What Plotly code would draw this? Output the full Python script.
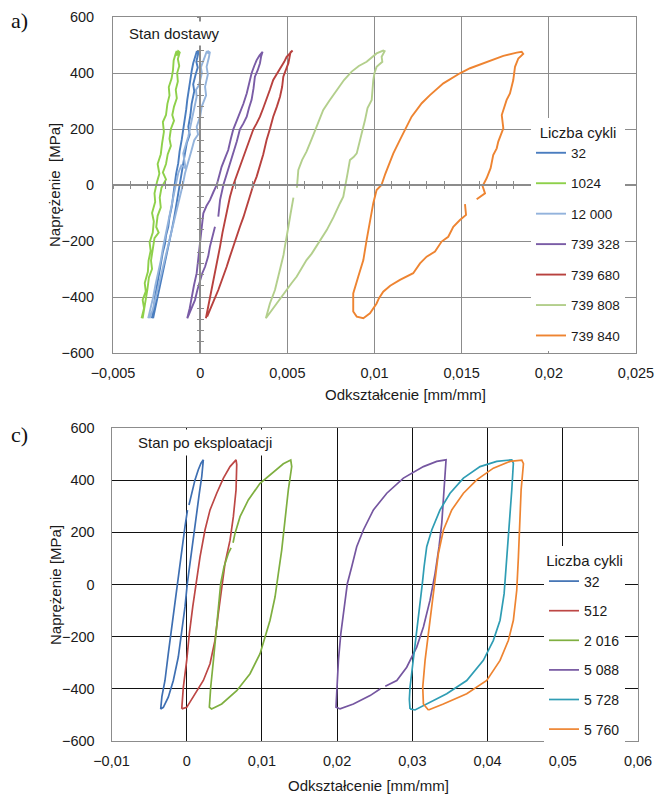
import plotly.graph_objects as go

# ---------------- a) Stan dostawy ----------------
a_names = ["32", "1024", "12 000", "739 328", "739 680", "739 808", "739 840"]
a_colors = ["#4A7DBF", "#8ED04A", "#93B3DC", "#7A5CA6", "#B8413E", "#B3CF8C", "#EE8431"]

a32_x = [-0.00277, -0.00266, -0.00259, -0.00248, -0.00236, -0.00228, -0.00214, -0.00202, -0.00196, -0.00183,
         -0.00176, -0.00163, -0.00156, -0.00145, -0.00138, -0.00126, -0.00118, -0.00106, -0.00096, -0.00087,
         -0.00080, -0.00074, -0.00066, -0.00059, -0.00048, -0.00040, -0.00030, -0.00020, -0.00008, -0.00016,
         -0.00004, -0.00011, -0.00022, -0.00014, -0.00026, -0.00040, -0.00034, -0.00049, -0.00056, -0.00068,
         -0.00060, -0.00077, -0.00088, -0.00097, -0.00108, -0.00116, -0.00126, -0.00135, -0.00150, -0.00163,
         -0.00176, -0.00192, -0.00204, -0.00221, -0.00234, -0.00249, -0.00262, -0.00270]
a32_y = [-476, -440, -399, -360, -320, -280, -240, -210, -180, -149,
         -115, -77, -40, 0, 40, 77, 120, 161, 200, 232,
         270, 304, 340, 375, 410, 435, 455, 476, 478, 468,
         472, 470, 440, 420, 395, 360, 335, 290, 250, 208,
         180, 149, 110, 77, 35, 0, -40, -77, -120, -161,
         -200, -244, -285, -327, -370, -411, -450, -476]

a1024_x = [-0.00336, -0.00322, -0.00330, -0.00312, -0.00318, -0.00300, -0.00296, -0.00284, -0.00290, -0.00272,
           -0.00266, -0.00276, -0.00258, -0.00262, -0.00248, -0.00234, -0.00244, -0.00226, -0.00218, -0.00208,
           -0.00214, -0.00196, -0.00188, -0.00176, -0.00180, -0.00164, -0.00156, -0.00152, -0.00140, -0.00135,
           -0.00128, -0.00136, -0.00126, -0.00118, -0.00116, -0.00128, -0.00120, -0.00132, -0.00128, -0.00140,
           -0.00134, -0.00150, -0.00160, -0.00150, -0.00168, -0.00176, -0.00168, -0.00186, -0.00196, -0.00214,
           -0.00196, -0.00222, -0.00232, -0.00226, -0.00244, -0.00252, -0.00238, -0.00262, -0.00270, -0.00282,
           -0.00276, -0.00294, -0.00302, -0.00312, -0.00320, -0.00330]
a1024_y = [-476, -440, -410, -380, -350, -310, -270, -235, -205, -170,
           -130, -100, -60, -30, 10, 40, 75, 110, 150, 190,
           225, 250, 290, 320, 350, 380, 410, 445, 470, 478,
           470, 462, 478, 474, 476, 450, 425, 400, 370, 340,
           310, 280, 250, 230, 200, 165, 140, 110, 75, 45,
           20, -10, -45, -80, -110, -150, -170, -190, -230, -270,
           -300, -330, -370, -410, -445, -476]

a12000_x = [-0.00298, -0.00284, -0.00269, -0.00256, -0.00240, -0.00226, -0.00212, -0.00198, -0.00183, -0.00168,
            -0.00154, -0.00140, -0.00126, -0.00108, -0.00084, -0.00097, -0.00082, -0.00068, -0.00054, -0.00040,
            -0.00030, -0.00020, -0.00024, -0.00008, 0.00000, 0.00010, 0.00004, 0.00018, 0.00028, 0.00037,
            0.00050, 0.00042, 0.00056, 0.00050, 0.00037, 0.00044, 0.00028, 0.00034, 0.00009, 0.00000,
            -0.00020, -0.00012, -0.00034, -0.00049, -0.00066, -0.00087, -0.00100, -0.00116, -0.00136, -0.00154,
            -0.00168, -0.00183, -0.00200, -0.00221, -0.00238, -0.00259, -0.00272, -0.00290]
a12000_y = [-476, -440, -399, -355, -315, -270, -220, -175, -125, -85,
            -42, 0, 42, 70, 60, 113, 145, 173, 215, 256,
            285, 315, 340, 355, 375, 400, 420, 440, 460, 476,
            478, 470, 476, 455, 422, 395, 351, 320, 280, 245,
            208, 180, 160, 125, 85, 42, 0, -42, -90, -137,
            -180, -220, -265, -315, -360, -411, -445, -476]

a739328_x = [0.00085, 0.00070, 0.00056, 0.00046, 0.00028, 0.00012, 0.00000, -0.00016, -0.00030, -0.00050,
             -0.00074, -0.00060, -0.00049, -0.00036, -0.00020, -0.00010, 0.00000, 0.00008, 0.00018, 0.00036,
             0.00056, 0.00076, 0.00095, 0.00110, 0.00123, 0.00142, 0.00161, 0.00176, 0.00190, 0.00210,
             0.00228, 0.00248, 0.00267, 0.00280, 0.00295, 0.00310, 0.00324, 0.00340, 0.00358, 0.00350,
             0.00343, 0.00330, 0.00314, 0.00306, 0.00295, 0.00280, 0.00267, 0.00248, 0.00228, 0.00210,
             0.00190, 0.00170, 0.00152, 0.00133, 0.00114, 0.00104]
a739328_y = [-149, -185, -220, -255, -292, -315, -339, -375, -411, -440,
             -476, -440, -399, -360, -315, -260, -196, -150, -101, -75,
             -54, -25, 0, 35, 65, 95, 125, 165, 199, 230,
             256, 290, 327, 365, 399, 425, 446, 462, 476, 460,
             435, 410, 387, 345, 304, 275, 244, 220, 199, 155,
             113, 78, 42, 0, -54, -113]

a739680_x = [0.00033, 0.00045, 0.00056, 0.00070, 0.00085, 0.00100, 0.00114, 0.00128, 0.00142, 0.00156,
             0.00171, 0.00190, 0.00210, 0.00228, 0.00248, 0.00267, 0.00286, 0.00305, 0.00324, 0.00343,
             0.00362, 0.00381, 0.00400, 0.00419, 0.00445, 0.00467, 0.00482, 0.00496, 0.00510, 0.00525,
             0.00530, 0.00518, 0.00506, 0.00490, 0.00477, 0.00470, 0.00458, 0.00440, 0.00419, 0.00400,
             0.00381, 0.00362, 0.00343, 0.00324, 0.00305, 0.00286, 0.00267, 0.00248, 0.00228, 0.00210,
             0.00190, 0.00171, 0.00152, 0.00128, 0.00104, 0.00080, 0.00056, 0.00040]
a739680_y = [-476, -440, -399, -355, -315, -265, -220, -170, -125, -80,
             -42, 0, 35, 65, 100, 137, 170, 199, 220, 244,
             275, 304, 340, 375, 400, 422, 440, 458, 468, 476,
             480, 474, 435, 410, 387, 350, 315, 280, 244, 200,
             161, 110, 65, 30, 0, -40, -77, -115, -149, -185,
             -220, -255, -292, -335, -375, -410, -446, -470]

a739808_x = [0.00555, 0.00563, 0.00585, 0.00610, 0.00640, 0.00668, 0.00688, 0.00706, 0.00740, 0.00783,
             0.00825, 0.00869, 0.00910, 0.00955, 0.00985, 0.01012, 0.01050, 0.01058, 0.01041, 0.01045,
             0.01012, 0.01000, 0.00993, 0.00990, 0.00984, 0.00960, 0.00955, 0.00945, 0.00936, 0.00915,
             0.00898, 0.00880, 0.00859, 0.00845, 0.00835, 0.00821, 0.00802, 0.00765, 0.00726, 0.00698,
             0.00668, 0.00640, 0.00610, 0.00580, 0.00554, 0.00525, 0.00496, 0.00470, 0.00439, 0.00410,
             0.00377, 0.00400, 0.00429, 0.00448, 0.00467, 0.00478, 0.00486, 0.00495, 0.00506, 0.00519,
             0.00530, 0.00535]
a739808_y = [-10, 54, 90, 119, 165, 208, 240, 268, 300, 339,
             375, 405, 425, 440, 455, 470, 480, 478, 458, 440,
             422, 400, 375, 340, 304, 275, 256, 230, 208, 160,
             113, 100, 89, 40, 0, -42, -65, -115, -161, -190,
             -220, -245, -268, -300, -327, -350, -375, -400, -423, -450,
             -476, -423, -375, -327, -280, -250, -220, -180, -149, -101,
             -70, -45]

a739840_x = [0.01519, 0.01525, 0.01490, 0.01452, 0.01423, 0.01385, 0.01347, 0.01299, 0.01261, 0.01222,
             0.01146, 0.01090, 0.01050, 0.01025, 0.01012, 0.00974, 0.00936, 0.00898, 0.00878, 0.00878,
             0.00878, 0.00907, 0.00936, 0.00955, 0.00974, 0.00993, 0.01012, 0.01040, 0.01062, 0.01108,
             0.01146, 0.01185, 0.01213, 0.01271, 0.01318, 0.01395, 0.01490, 0.01548, 0.01643, 0.01739,
             0.01816, 0.01844, 0.01853, 0.01825, 0.01806, 0.01796, 0.01777, 0.01758, 0.01730, 0.01739,
             0.01710, 0.01701, 0.01681, 0.01666, 0.01643, 0.01620, 0.01634, 0.01586]
a739840_y = [-68, -107, -125, -149, -185, -202, -238, -256, -280, -315,
             -339, -360, -381, -405, -423, -458, -476, -470, -452, -420,
             -387, -327, -268, -196, -125, -65, -18, 0, 40, 113,
             161, 208, 244, 292, 321, 363, 399, 417, 440, 461,
             473, 476, 468, 452, 422, 375, 327, 304, 250, 202,
             155, 131, 107, 60, 24, -4, -30, -51]

# ---------------- c) Stan po eksploatacji ----------------
c_names = ["32", "512", "2 016", "5 088", "5 728", "5 760"]
c_colors = ["#3E6FB2", "#BD4745", "#7FAF40", "#7556A0", "#2F9DB4", "#EE8431"]

c32_x = [0.00030, 0.00066, 0.00110, 0.00154, 0.00190, 0.00221, 0.00215, 0.00200, 0.00168, 0.00133,
         0.00088, 0.00044, 0.00008, -0.00023, -0.00066, -0.00112, -0.00178, -0.00245, -0.00311, -0.00346,
         -0.00330, -0.00289, -0.00245, -0.00200, -0.00156, -0.00112, -0.00066, -0.00023, 0.00010]
c32_y = [305, 350, 401, 440, 465, 478, 450, 414, 350, 273,
         183, 93, 4, -86, -188, -278, -368, -432, -471, -477,
         -430, -368, -265, -163, -60, 42, 145, 222, 285]

c512_x = [-0.00066, -0.00045, 0.00000, 0.00035, 0.00080, 0.00133, 0.00177, 0.00243, 0.00310, 0.00399,
          0.00488, 0.00576, 0.00630, 0.00656, 0.00665, 0.00662, 0.00656, 0.00620, 0.00576, 0.00509,
          0.00465, 0.00420, 0.00376, 0.00310, 0.00221, 0.00088, 0.00000, -0.00066]
c512_y = [-477, -394, -291, -188, -86, 17, 106, 209, 286, 350,
          408, 452, 470, 478, 460, 420, 363, 260, 170, 81,
          -9, -112, -214, -304, -368, -432, -471, -477]

c2016_x = [0.00616, 0.00642, 0.00709, 0.00819, 0.00975, 0.01152, 0.01285, 0.01383, 0.01396, 0.01351,
           0.01307, 0.01263, 0.01218, 0.01174, 0.01108, 0.01041, 0.00975, 0.00842, 0.00665, 0.00465,
           0.00330, 0.00301, 0.00319, 0.00355, 0.00390, 0.00420, 0.00452, 0.00496, 0.00553, 0.00590]
c2016_y = [160, 196, 260, 324, 388, 433, 463, 477, 452, 363,
           235, 132, 42, -48, -137, -202, -265, -342, -407, -458,
           -477, -470, -394, -291, -188, -86, 4, 68, 119, 140]

c5088_x = [0.02575, 0.02438, 0.02216, 0.02039, 0.01985, 0.01995, 0.02017, 0.02049, 0.02092, 0.02136,
           0.02194, 0.02260, 0.02349, 0.02482, 0.02660, 0.02881, 0.03147, 0.03324, 0.03448, 0.03440,
           0.03422, 0.03391, 0.03355, 0.03302, 0.03235, 0.03147, 0.03058, 0.02925, 0.02793, 0.02640]
c5088_y = [-400, -426, -458, -477, -470, -394, -291, -188, -86, 4,
           68, 145, 209, 286, 350, 408, 452, 472, 478, 440,
           337, 235, 145, 42, -60, -163, -240, -317, -368, -390]

c5728_x = [0.02969, 0.02960, 0.02969, 0.03013, 0.03058, 0.03102, 0.03133, 0.03156, 0.03191, 0.03258,
           0.03368, 0.03501, 0.03679, 0.03900, 0.04122, 0.04322, 0.04343, 0.04322, 0.04290, 0.04255,
           0.04220, 0.04166, 0.04077, 0.03944, 0.03723, 0.03457, 0.03191, 0.03035, 0.02969]
c5728_y = [-477, -440, -394, -291, -188, -86, 4, 68, 145, 209,
           286, 350, 408, 452, 472, 478, 465, 363, 235, 106,
           -35, -137, -214, -291, -368, -419, -458, -481, -477]

c5760_x = [0.03213, 0.03147, 0.03138, 0.03169, 0.03213, 0.03258, 0.03302, 0.03346, 0.03413, 0.03524,
           0.03679, 0.03856, 0.04077, 0.04299, 0.04455, 0.04477, 0.04446, 0.04432, 0.04410, 0.04388,
           0.04343, 0.04277, 0.04166, 0.03989, 0.03723, 0.03412, 0.03213]
c5760_y = [-481, -458, -394, -291, -188, -86, 17, 119, 209, 286,
           350, 401, 446, 472, 477, 463, 363, 235, 106, -22,
           -137, -214, -291, -368, -419, -458, -481]

a_series = [(a32_x, a32_y), (a1024_x, a1024_y), (a12000_x, a12000_y), (a739328_x, a739328_y),
            (a739680_x, a739680_y), (a739808_x, a739808_y), (a739840_x, a739840_y)]
c_series = [(c32_x, c32_y), (c512_x, c512_y), (c2016_x, c2016_y), (c5088_x, c5088_y),
            (c5728_x, c5728_y), (c5760_x, c5760_y)]

W, H = 656, 796
FONT = "Liberation Sans, Arial, sans-serif"
SERIF = "Liberation Serif, DejaVu Serif, serif"
TXT = "#1a1a1a"


def fx(p):
    return p / W


def fy(p):
    return 1 - p / H


fig = go.Figure()

for (xs, ys), name, col in zip(a_series, a_names, a_colors):
    fig.add_trace(go.Scatter(x=xs, y=ys, mode="lines", name=name, line=dict(color=col, width=1.9),
                             xaxis="x", yaxis="y", legend="legend", legendgroup="a" + name,
                             hoverinfo="skip"))
for (xs, ys), name, col in zip(c_series, c_names, c_colors):
    fig.add_trace(go.Scatter(x=xs, y=ys, mode="lines", name=name, line=dict(color=col, width=1.7),
                             xaxis="x2", yaxis="y2", legend="legend2", legendgroup="c" + name,
                             hoverinfo="skip"))

# empty helper traces so that the crossing zero axes of panel a) are drawn
for xa, ya in [("x3", "y"), ("x4", "y"), ("x", "y3"), ("x", "y4")]:
    fig.add_trace(go.Scatter(x=[], y=[], mode="lines", xaxis=xa, yaxis=ya, showlegend=False,
                             hoverinfo="skip"))

top_x = [fx(113), fx(636)]
top_y = [fy(353), fy(17)]
bot_x = [fx(111.5), fx(638)]
bot_y = [fy(741), fy(428)]

GRID_A = "#8C8C8C"
tickfont = dict(family=FONT, size=14.5, color=TXT)
titlefont = dict(family=FONT, size=15, color=TXT)

zero_y_pos = (top_y[0] + top_y[1]) / 2
zero_x_pos = top_x[0] + (0 - (-0.005)) / 0.03 * (top_x[1] - top_x[0])

common = dict(automargin=False, zeroline=False, showspikes=False)

fig.update_layout(
    template="none",
    width=W, height=H,
    margin=dict(l=0, r=0, t=0, b=0, pad=0, autoexpand=False),
    paper_bgcolor="white", plot_bgcolor="white",
    separators=", ",
    showlegend=True,
    hovermode=False,
    font=dict(family=FONT, size=13, color=TXT),
    xaxis=dict(domain=top_x, anchor="y", range=[-0.005, 0.025], tickmode="linear", tick0=-0.005, dtick=0.005,
               showgrid=True, gridcolor=GRID_A, gridwidth=1,
               showline=True, linecolor=GRID_A, linewidth=1, mirror=True,
               ticks="", ticklabelstandoff=7, tickfont=tickfont, **common),
    yaxis=dict(domain=top_y, anchor="x", range=[-600, 600], tickmode="linear", tick0=-600, dtick=200,
               showgrid=True, gridcolor=GRID_A, gridwidth=1,
               showline=True, linecolor=GRID_A, linewidth=1, mirror=True,
               ticks="", ticklabelstandoff=15, tickfont=tickfont, **common),
    xaxis3=dict(overlaying="x", anchor="free", position=zero_y_pos, range=[-0.005, 0.025],
                tickmode="linear", tick0=0, dtick=0.001, ticks="inside", ticklen=3, tickcolor=GRID_A,
                showline=True, linecolor=GRID_A, linewidth=1.5, showgrid=False,
                showticklabels=False, **common),
    xaxis4=dict(overlaying="x", anchor="free", position=zero_y_pos, range=[-0.005, 0.025],
                tickmode="linear", tick0=0, dtick=0.001, ticks="outside", ticklen=3, tickcolor=GRID_A,
                showline=False, showgrid=False, showticklabels=False, **common),
    yaxis3=dict(overlaying="y", anchor="free", position=zero_x_pos, range=[-600, 600],
                tickmode="linear", tick0=0, dtick=40, ticks="inside", ticklen=3, tickcolor=GRID_A,
                showline=True, linecolor=GRID_A, linewidth=1.5, showgrid=False,
                showticklabels=False, **common),
    yaxis4=dict(overlaying="y", anchor="free", position=zero_x_pos, range=[-600, 600],
                tickmode="linear", tick0=0, dtick=40, ticks="outside", ticklen=3, tickcolor=GRID_A,
                showline=False, showgrid=False, showticklabels=False, **common),
    xaxis2=dict(domain=bot_x, anchor="y2", range=[-0.01, 0.06], tickmode="linear", tick0=-0.01, dtick=0.01,
                showgrid=True, gridcolor="#111111", gridwidth=1,
                showline=True, linecolor=GRID_A, linewidth=1, mirror=True,
                ticks="", ticklabelstandoff=7, tickfont=tickfont, **common),
    yaxis2=dict(domain=bot_y, anchor="x2", range=[-600, 600], tickmode="linear", tick0=-600, dtick=200,
                showgrid=True, gridcolor="#111111", gridwidth=1,
                showline=True, linecolor=GRID_A, linewidth=1, mirror=True,
                ticks="", ticklabelstandoff=13, tickfont=tickfont, **common),
    legend=dict(x=fx(531), y=fy(118), xanchor="left", yanchor="top", bgcolor="white", borderwidth=0,
                font=dict(family=FONT, size=13.5, color=TXT),
                title=dict(text="Liczba cykli", font=titlefont, side="top center"),
                tracegroupgap=9.9, itemwidth=30, traceorder="grouped"),
    legend2=dict(x=fx(544), y=fy(546), xanchor="left", yanchor="top", bgcolor="white", borderwidth=0,
                 font=dict(family=FONT, size=14, color=TXT),
                 title=dict(text="Liczba cykli", font=titlefont, side="top center"),
                 tracegroupgap=8.4, itemwidth=30, traceorder="grouped"),
)

ann = [
    dict(text="a)", x=fx(9), y=fy(21), xanchor="left", yanchor="middle", font=dict(family=SERIF, size=22, color="#111")),
    dict(text="c)", x=fx(9), y=fy(434), xanchor="left", yanchor="middle", font=dict(family=SERIF, size=22, color="#111")),
    dict(text="Stan dostawy", x=fx(125), y=fy(33), xanchor="left", yanchor="middle", bgcolor="white", borderpad=3),
    dict(text="Stan po eksploatacji", x=fx(133), y=fy(442), xanchor="left", yanchor="middle", bgcolor="white", borderpad=4),
    dict(text="Naprężenie\u00a0 [MPa]", x=fx(55), y=fy(185), xanchor="center", yanchor="middle", textangle=-90),
    dict(text="Naprężenie [MPa]", x=fx(55), y=fy(585), xanchor="center", yanchor="middle", textangle=-90),
    dict(text="Odkształcenie [mm/mm]", x=fx(405), y=fy(394), xanchor="center", yanchor="middle"),
    dict(text="Odkształcenie [mm/mm]", x=fx(368), y=fy(785), xanchor="center", yanchor="middle"),
]
for a in ann:
    a.setdefault("font", titlefont)
    fig.add_annotation(xref="paper", yref="paper", showarrow=False, **a)

fig.write_html("out.html", config={"displayModeBar": False},
               post_script="document.body.style.margin='0';document.body.style.overflow='hidden';")
